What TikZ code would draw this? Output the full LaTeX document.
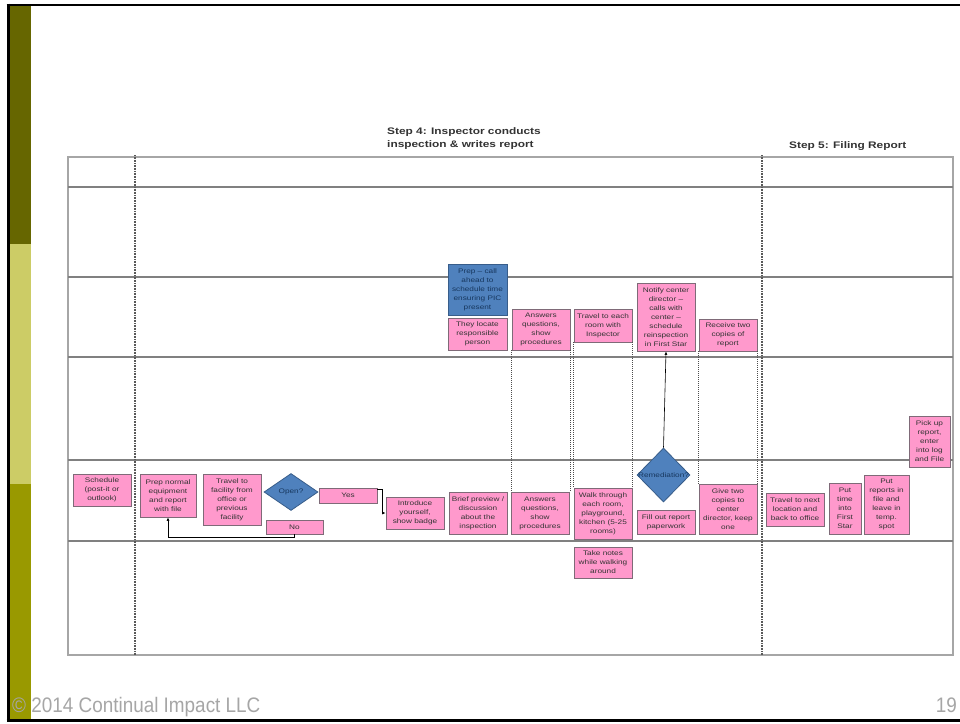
\documentclass[tikz,border=0pt]{standalone}
\usepackage{fontspec}
\setmainfont{Liberation Sans}
\newfontfamily\sfx[FakeStretch=1.25]{Liberation Sans}
\newfontfamily\footfont[FakeStretch=0.9]{Liberation Sans}
\usetikzlibrary{shapes.geometric,arrows.meta}
\definecolor{pinkfill}{HTML}{FF99CC}
\definecolor{pinkline}{HTML}{7F6A78}
\definecolor{bluefill}{HTML}{4F81BD}
\definecolor{blueline}{HTML}{385D8A}
\definecolor{bluetext}{HTML}{17375E}
\definecolor{boxtext}{HTML}{333333}
\definecolor{oliveA}{HTML}{666600}
\definecolor{oliveB}{HTML}{CCCC66}
\definecolor{oliveC}{HTML}{999900}
\definecolor{laneline}{HTML}{808080}
\definecolor{frameline}{HTML}{A6A6A6}
\definecolor{foot}{HTML}{A6A6A6}
\tikzset{
 pbox/.style={rectangle, draw=pinkline, fill=pinkfill, line width=0.8pt, inner sep=0pt, align=center, text=boxtext, font=\sfx\fontsize{6.6}{9}\selectfont},
 bbox/.style={pbox, draw=blueline, fill=bluefill, text=bluetext},
 dia/.style={diamond, draw=blueline, fill=bluefill, line width=0.8pt, inner sep=0pt},
 dtext/.style={text=bluetext, font=\sfx\fontsize{6.6}{9}\selectfont, inner sep=0pt},
 conn/.style={draw=black, line width=0.6pt, -{Latex[length=3.5pt,width=3pt]}},
 guide/.style={draw=black!70, line width=0.5pt, dash pattern=on 1pt off 1pt},
 lane/.style={draw=laneline, line width=1.1pt},
 sepline/.style={draw=black!65, line width=1.7pt, dash pattern=on 0.8pt off 0.8pt},
 head/.style={font=\sfx\bfseries\fontsize{9.5}{13.5}\selectfont, text=boxtext, align=left, inner sep=0pt},
 foottext/.style={font=\footfont\fontsize{21}{24}\selectfont, text=foot, inner sep=0pt},
}
\newcommand\pbx[7][pbox]{%
 \pgfmathsetmacro\bxw{#5-#3}\pgfmathsetmacro\bxh{#6-#4}%
 \pgfmathsetmacro\bxcx{(#3+#5)/2}\pgfmathsetmacro\bxcy{(#4+#6)/2}%
 \node[#1, minimum width=\bxw pt, minimum height=\bxh pt] (#2) at (\bxcx,\bxcy) {#7};}
\begin{document}
\begin{tikzpicture}[x=1pt,y=-1pt]
\fill[white] (0,0) rectangle (960,723);
\useasboundingbox (0,0) rectangle (960,723);
% slide frame and bar
\fill[oliveA] (9.5,5) rectangle (31,244);
\fill[oliveB] (9.5,244) rectangle (31,484);
\fill[oliveC] (9.5,484) rectangle (31,720);
\draw[line width=3pt] (8,3.5) -- (8,721.5);
\draw[line width=2.5pt] (6.5,5) -- (960,5);
\draw[line width=2.5pt] (6.5,720.5) -- (960,720.5);
% table
\draw[frameline, line width=1.1pt] (68,157) rectangle (953,655);
\foreach \yy in {187,277,357,460,541} \draw[lane] (68,\yy) -- (953,\yy);
\draw[sepline] (135,155) -- (135,655);
\draw[sepline] (762,155) -- (762,655);
% headers
\node[head, anchor=north west] (h4) at (387,127.3) {Step 4: Inspector conducts\\inspection \& writes report};
\node[head, anchor=base west] (h5) at (789,148.4) {Step 5: Filing Report};
% boxes joined by guides
\pbx{ans3}{512}{309}{570}{350}{Answers\\questions,\\show\\procedures}
\pbx{ans5}{511}{492}{569}{534}{Answers\\questions,\\show\\procedures}
\pbx{treach}{574}{309}{632}{342}{Travel to each\\room with\\Inspector}
\pbx{walk}{574}{488}{632}{539}{Walk through\\each room,\\playground,\\kitchen (5-25\\rooms)}
\pbx{receive}{699}{319}{757}{351}{Receive two\\copies of\\report}
\pbx{give}{699}{484}{757}{534}{Give two\\copies to\\center\\director, keep\\one}
\draw[guide] (ans3.south west) -- (ans3.south west |- ans5.north);
\draw[guide] (ans3.south east) -- (ans3.south east |- ans5.north);
\draw[guide] (treach.south west) -- (walk.north west);
\draw[guide] (treach.south east) -- (walk.north east);
\draw[guide] (receive.south west) -- (give.north west);
\draw[guide] (receive.south east) -- (give.north east);
% lane 5 boxes
\pbx{sched}{73}{474}{131}{506}{Schedule\\(post-it or\\outlook)}
\pbx{prep}{140}{474}{196}{517}{Prep normal\\equipment\\and report\\with file}
\pbx{trav}{203}{474}{261}{525}{Travel to\\facility from\\office or\\previous\\facility}
\node[dia, minimum width=54pt, minimum height=37pt, label={[dtext]center:Open?}] (open) at (291,492) {};
\pbx{no}{266}{520}{323}{534}{No}
\pbx{yes}{319}{488}{377}{503}{Yes}
\pbx{intro}{386}{497}{444}{529}{Introduce\\yourself,\\show badge}
\pbx{brief}{449}{492}{507}{534}{Brief preview /\\discussion\\about the\\inspection}
\pbx{notes}{574}{547}{632}{578}{Take notes\\while walking\\around}
\node[dia, minimum width=53pt, minimum height=54pt, label={[dtext]center:Remediation?}] (rem) at (663.5,475) {};
\pbx{fillout}{637}{510}{695}{534}{Fill out report\\paperwork}
\pbx{trnext}{766}{493}{824}{526}{Travel to next\\location and\\back to office}
\pbx{puttime}{829}{483}{861}{534}{Put\\time\\into\\First\\Star}
\pbx{putrep}{864}{475}{909}{534}{Put\\reports in\\file and\\leave in\\temp.\\spot}
\pbx{pick}{909}{416}{950}{467}{Pick up\\report,\\enter\\into log\\and File}
% lane 3 boxes
\pbx[bbox]{callahead}{448}{264}{507}{315}{Prep – call\\ahead to\\schedule time\\ensuring PIC\\present}
\pbx{locate}{448}{318}{507}{350}{They locate\\responsible\\person}
\pbx{notify}{637}{283}{695}{351}{Notify center\\director –\\calls with\\center –\\schedule\\reinspection\\in First Star}
% connectors
\draw[conn] (no.south) -- ++(0,3) -| (prep.south);
\draw[conn] ([yshift=-2pt]yes.north east) -- ++(5,0) |- (intro.west);
\draw[conn] (rem.north) -- (notify.south);
% footer
\node[foottext, anchor=base west] (copy) at (12,712.7) {© 2014 Continual Impact LLC};
\node[foottext, anchor=base east] (pnum) at (957,712.7) {19};
\end{tikzpicture}
\end{document}
